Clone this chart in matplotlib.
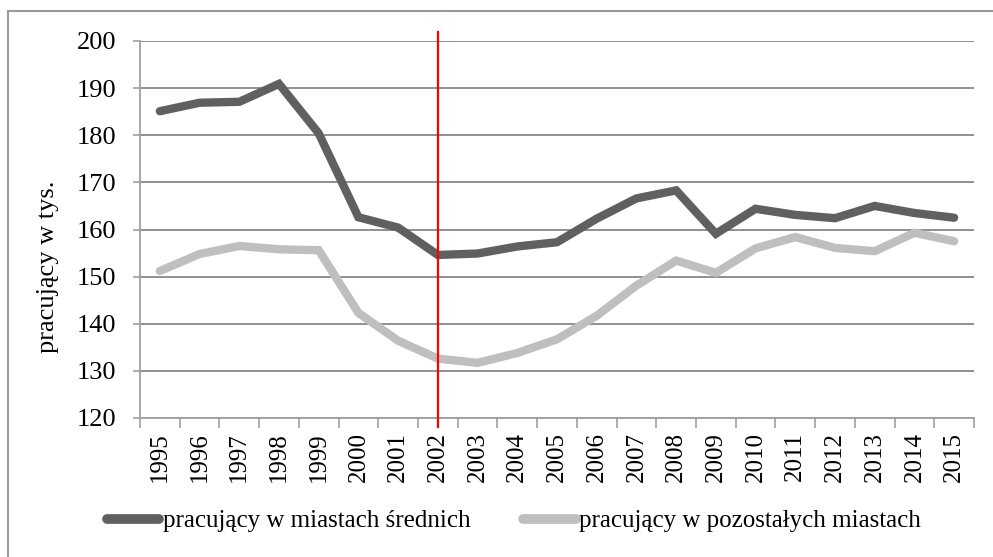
import matplotlib
matplotlib.use("Agg")
import matplotlib.pyplot as plt
from matplotlib.lines import Line2D
import matplotlib.transforms as mtransforms

years = [str(y) for y in range(1995, 2016)]
srednie = [185.1, 186.9, 187.1, 190.9, 180.4, 162.6, 160.4, 154.6, 154.9, 156.4, 157.3,
           162.3, 166.6, 168.3, 159.1, 164.4, 163.1, 162.4, 165.0, 163.5, 162.5]
pozostale = [151.2, 154.8, 156.5, 155.8, 155.6, 142.3, 136.4, 132.6, 131.7, 133.8, 136.7,
             141.7, 148.1, 153.4, 150.8, 156.0, 158.4, 156.1, 155.4, 159.3, 157.5]
label_srednie = "pracujący w miastach średnich"
label_pozostale = "pracujący w pozostałych miastach"
ylabel = "pracujący w tys."
yticks = [120, 130, 140, 150, 160, 170, 180, 190, 200]
marker_year = "2002"

plt.rcParams['font.family'] = ['Liberation Serif', 'DejaVu Serif']

W, H = 993, 557
fig = plt.figure(figsize=(W / 100, H / 100), dpi=100)
ax = fig.add_axes([140 / W, 1 - 418 / H, (974 - 140) / W, (418 - 41) / H])

x = list(range(len(years)))
ax.plot(x, srednie, color='#606060', lw=6, solid_capstyle='round', solid_joinstyle='miter',
        label=label_srednie, zorder=3)
ax.plot(x, pozostale, color='#bfbfbf', lw=6, solid_capstyle='round', solid_joinstyle='miter',
        label=label_pozostale, zorder=3)

ax.set_xlim(-0.5, len(years) - 0.5)
ax.set_ylim(120, 200)
ax.set_yticks(yticks)
ax.set_xticks(x)
ax.set_xticklabels(years, rotation=90)
ax.set_xticks([i - 0.5 for i in range(len(years) + 1)], minor=True)
ax.tick_params(axis='x', which='major', length=0, pad=10, labelsize=18)
ax.tick_params(axis='x', which='minor', length=7, width=1.2, color='#a0a0a0', direction='out')
ax.tick_params(axis='y', length=5, width=1.2, color='#a0a0a0', direction='out', pad=12, labelsize=19)

ax.grid(axis='y', color='#878787', lw=1.3, zorder=1)
for s in ['top', 'right']:
    ax.spines[s].set_visible(False)
for s in ['left', 'bottom']:
    ax.spines[s].set_color('#a0a0a0')
    ax.spines[s].set_linewidth(1.3)

# red vertical marker
i2002 = years.index(marker_year)
trans = mtransforms.blended_transform_factory(ax.transData, ax.transAxes)
ax.add_line(Line2D([i2002, i2002], [-0.024, 1.024], transform=trans, color='#ff0000',
                   lw=1.6, clip_on=False, zorder=4))

fig.text(48 / W, 1 - 267 / H, ylabel, rotation=90, ha='center', va='center', fontsize=19)

leg = fig.legend(loc='center', bbox_to_anchor=(514 / W, 1 - 521 / H), ncol=2, frameon=False,
                 fontsize=18, handlelength=2.1, handletextpad=0.15, columnspacing=2.1)
for h in leg.get_lines():
    h.set_linewidth(7)
    h.set_solid_capstyle('round')

# outer border (left/top visible)
fig.add_artist(Line2D([8 / W, 8 / W], [0, 1 - 11 / H], transform=fig.transFigure,
                      color='#9a9a9a', lw=1.5))
fig.add_artist(Line2D([8 / W, 1], [1 - 11 / H, 1 - 11 / H], transform=fig.transFigure,
                      color='#9a9a9a', lw=1.5))

fig.savefig('out.png', dpi=100)
